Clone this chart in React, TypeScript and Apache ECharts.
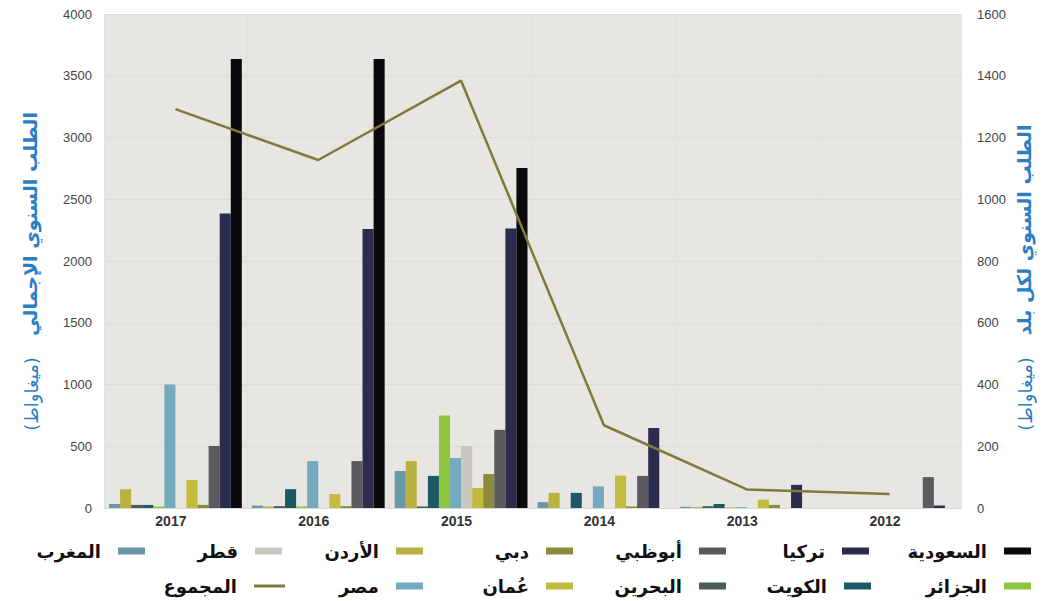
import React, { useEffect, useRef } from "react";
import * as echarts from "echarts";

const years = ["2017", "2016", "2015", "2014", "2013", "2012"];

const morocco = [13, 8, 120, 19, 4, 0];
const jordan = [61, 5, 152, 49, 3, 0];
const bahrain = [10, 6, 5, 0, 6, 0];
const kuwait = [10, 61, 104, 49, 13, 0];
const algeria = [5, 5, 300, 0, 2, 0];
const egypt = [400, 152, 162, 70, 3, 0];
const qatar = [0, 0, 201, 0, 0, 0];
const oman = [91, 45, 65, 105, 27, 0];
const dubai = [10, 6, 110, 5, 10, 0];
const abuDhabi = [201, 152, 253, 104, 0, 100];
const turkey = [954, 904, 905, 259, 75, 8];
const saudi = [1454, 1454, 1101, 0, 0, 0];
const total = [3230, 2818, 3460, 670, 150, 113];

const leftTicks = [0, 500, 1000, 1500, 2000, 2500, 3000, 3500, 4000];
const rightTicks = [0, 200, 400, 600, 800, 1000, 1200, 1400, 1600];

const barSeries = [
  { name: "المغرب", data: morocco, color: "#6b98a9" },
  { name: "الأردن", data: jordan, color: "#b8b340" },
  { name: "البحرين", data: bahrain, color: "#4e5c59" },
  { name: "الكويت", data: kuwait, color: "#1d5867" },
  { name: "الجزائر", data: algeria, color: "#8cc63f" },
  { name: "مصر", data: egypt, color: "#75a9bf" },
  { name: "قطر", data: qatar, color: "#cac7c0" },
  { name: "عُمان", data: oman, color: "#c3bb3b" },
  { name: "دبي", data: dubai, color: "#8b8c3b" },
  { name: "أبوظبي", data: abuDhabi, color: "#5a5a5d" },
  { name: "تركيا", data: turkey, color: "#2c2c50" },
  { name: "السعودية", data: saudi, color: "#0a0a0e" },
];
const totalName = "المجموع";
const totalColor = "#7d7c3c";

// legend layout: [name, swatch right edge, row]
const legendLayout: [string, number, number][] = [
  ["السعودية", 1036, 0],
  ["تركيا", 874, 0],
  ["أبوظبي", 731, 0],
  ["دبي", 578, 0],
  ["الأردن", 428, 0],
  ["قطر", 287, 0],
  ["المغرب", 150, 0],
  ["الجزائر", 1036, 1],
  ["الكويت", 876, 1],
  ["البحرين", 731, 1],
  ["عُمان", 578, 1],
  ["مصر", 428, 1],
  ["المجموع", 290, 1],
];

const W = 1045;
const H = 601;
const AR = '"DejaVu Sans", sans-serif';
const LAT = '"Liberation Sans", Arial, sans-serif';
const BLUE = "#2b7ec3";

export default function App() {
  const ref = useRef<HTMLDivElement>(null);
  useEffect(() => {
    if (!ref.current) return;
    const chart = echarts.init(ref.current, null, { renderer: "svg", width: W, height: H });
    const rowTop = [537, 572];
    const legends = legendLayout.map(([name, edge, row]) => {
      const isLine = name === totalName;
      return {
        data: [name],
        right: W - edge,
        top: rowTop[row],
        align: "right",
        icon: "rect",
        itemWidth: isLine ? 31 : 27,
        itemHeight: isLine ? 3 : 7,
        selectedMode: false,
        textStyle: {
          fontFamily: AR,
          fontWeight: "bold",
          fontSize: 18,
          color: "#111",
          padding: [0, 12, 0, 0],
        },
      };
    });
    chart.setOption({
      animation: false,
      backgroundColor: "#ffffff",
      grid: {
        left: 104,
        right: W - 961,
        top: 14,
        bottom: H - 508,
        show: true,
        backgroundColor: "#e7e6e2",
        borderWidth: 0,
      },
      legend: legends,
      xAxis: {
        type: "category",
        data: years,
        axisLine: { show: true, lineStyle: { color: "#d9d8d3", width: 1 } },
        axisTick: { show: false },
        splitLine: { show: true, lineStyle: { color: "#e2e1dd", width: 1 } },
        axisLabel: {
          color: "#333",
          fontFamily: LAT,
          fontWeight: "bold",
          fontSize: 14,
          margin: 6,
          padding: [0, 9, 0, 0],
        },
      },
      yAxis: [
        {
          type: "value",
          min: leftTicks[0],
          max: leftTicks[leftTicks.length - 1],
          interval: leftTicks[1] - leftTicks[0],
          position: "left",
          axisLine: { show: false },
          axisTick: { show: false },
          splitLine: { show: true, lineStyle: { color: "#dddcd7", width: 1 } },
          axisLabel: {
            color: "#444",
            fontFamily: LAT,
            fontSize: 13,
            margin: 12,
            formatter: (v: number) => String(v),
          },
        },
        {
          type: "value",
          min: rightTicks[0],
          max: rightTicks[rightTicks.length - 1],
          interval: rightTicks[1] - rightTicks[0],
          position: "right",
          axisLine: { show: false },
          axisTick: { show: false },
          splitLine: { show: false },
          axisLabel: {
            color: "#444",
            fontFamily: LAT,
            fontSize: 13,
            margin: 16,
            formatter: (v: number) => String(v),
          },
        },
      ],
      series: [
        ...barSeries.map((s) => ({
          type: "bar",
          name: s.name,
          data: s.data,
          yAxisIndex: 1,
          barGap: "0%",
          barCategoryGap: "7%",
          itemStyle: { color: s.color },
        })),
        {
          type: "line",
          name: totalName,
          data: total,
          yAxisIndex: 0,
          showSymbol: false,
          symbol: "none",
          itemStyle: { color: totalColor },
          lineStyle: { color: totalColor, width: 2.5 },
          z: 5,
        },
      ],
      graphic: [
        {
          type: "text",
          x: 30,
          y: 224,
          rotation: Math.PI / 2,
          style: {
            text: "الطلب السنوي الإجمالي",
            font: `bold 19px ${AR}`,
            fill: BLUE,
            align: "center",
            verticalAlign: "middle",
          },
        },
        {
          type: "text",
          x: 31,
          y: 394,
          rotation: Math.PI / 2,
          style: {
            text: "(ميغاواط)",
            font: `18px ${AR}`,
            fill: BLUE,
            align: "center",
            verticalAlign: "middle",
          },
        },
        {
          type: "text",
          x: 1024,
          y: 230,
          rotation: Math.PI / 2,
          style: {
            text: "الطلب السنوي لكل بلد",
            font: `bold 19px ${AR}`,
            fill: BLUE,
            align: "center",
            verticalAlign: "middle",
          },
        },
        {
          type: "text",
          x: 1025,
          y: 394,
          rotation: Math.PI / 2,
          style: {
            text: "(ميغاواط)",
            font: `18px ${AR}`,
            fill: BLUE,
            align: "center",
            verticalAlign: "middle",
          },
        },
      ],
    });
    return () => chart.dispose();
  }, []);
  return (
    <div
      ref={ref}
      style={{ position: "fixed", left: 0, top: 0, width: W, height: H, background: "#fff" }}
    />
  );
}
